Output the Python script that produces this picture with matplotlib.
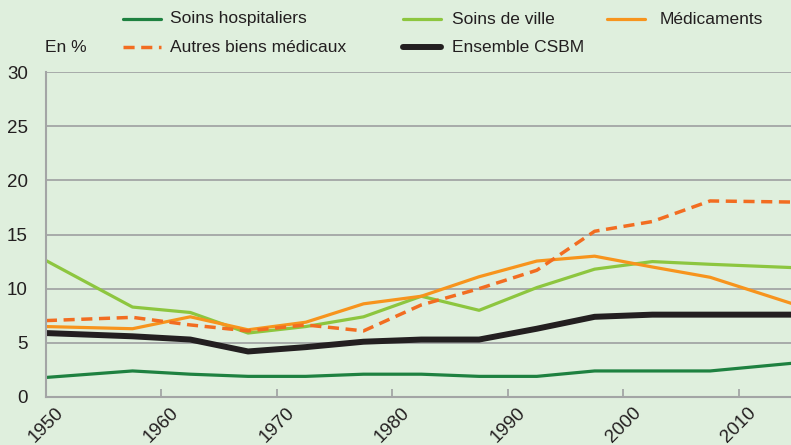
"""
Taux de croissance des composantes de la CSBM, 1950-2014
"""

import numpy as np
import matplotlib.pyplot as plt
from matplotlib.lines import Line2D

plt.rcParams['font.family'] = ['Liberation Sans', 'DejaVu Sans']

# Périodes (milieu de période quinquennale)
annees = [1950, 1957.5, 1962.5, 1967.5, 1972.5, 1977.5, 1982.5,
          1987.5, 1992.5, 1997.5, 2002.5, 2007.5, 2014.5]

hospitaliers = [1.8, 2.4, 2.1, 1.9, 1.9, 2.1, 2.1, 1.9, 1.9, 2.4, 2.4, 2.4, 3.1]
ville = [12.6, 8.3, 7.8, 5.9, 6.5, 7.4, 9.3, 8.0, 10.1, 11.8, 12.5, 12.25, 11.95]
medicaments = [6.5, 6.3, 7.4, 6.2, 6.9, 8.6, 9.3, 11.1, 12.55, 13.0, 12.0, 11.05, 8.65]
autres = [7.05, 7.35, 6.65, 6.1, 6.65, 6.1, 8.5, 10.0, 11.7, 15.3, 16.2, 18.1, 18.0]
ensemble = [5.9, 5.6, 5.3, 4.2, 4.6, 5.1, 5.3, 5.3, 6.3, 7.4, 7.6, 7.6, 7.6]

xticks = [1950, 1960, 1970, 1980, 1990, 2000, 2010]
yticks = [0, 5, 10, 15, 20, 25, 30]

bg = '#dfefdd'
txt = '#231f20'
grid_c = '#a3a5a5'

c_hosp = '#1e8140'
c_ville = '#8dc63f'
c_medic = '#f7941d'
c_autres = '#f26d21'
c_ens = '#231f20'

fig = plt.figure(figsize=(7.91, 4.45), dpi=100, facecolor=bg)
ax = fig.add_axes([0.058, 0.108, 0.942, 0.730])
ax.set_facecolor(bg)

ax.plot(annees, hospitaliers, color=c_hosp, linewidth=2.3)
ax.plot(annees, ville, color=c_ville, linewidth=2.3)
ax.plot(annees, medicaments, color=c_medic, linewidth=2.3)
ax.plot(annees, autres, color=c_autres, linewidth=2.5, dashes=(3.2, 1.9))
ax.plot(annees, ensemble, color=c_ens, linewidth=4.3)

ax.set_xlim(1950, 2014.5)
ax.set_ylim(0, 30)
ax.set_yticks(yticks)
ax.set_xticks(xticks)
ax.set_xticklabels([str(x) for x in xticks], rotation=45, ha='center',
                   fontsize=13.5, color=txt)
ax.set_yticklabels([str(y) for y in yticks], fontsize=13.5, color=txt)

ax.grid(axis='y', color=grid_c, linewidth=1.3)
ax.set_axisbelow(True)
ax.tick_params(axis='y', length=0, pad=13)
ax.tick_params(axis='x', direction='in', length=6, width=1.3, color=grid_c, pad=5)

for s in ['top', 'right']:
    ax.spines[s].set_visible(False)
for s in ['left', 'bottom']:
    ax.spines[s].set_color(grid_c)
    ax.spines[s].set_linewidth(1.5)

# Légende manuelle
items = [
    (123, 19, 170, c_hosp, 2.3, '-', 'Soins hospitaliers'),
    (403, 19, 452, c_ville, 2.3, '-', 'Soins de ville'),
    (607, 19, 660, c_medic, 2.3, '-', 'Médicaments'),
    (123, 47, 170, c_autres, 2.5, '--', 'Autres biens médicaux'),
    (403, 47, 452, c_ens, 4.3, '-', 'Ensemble CSBM'),
]
W, H = 791, 445
for x0, y0, xt, col, lw, ls, lab in items:
    ln = Line2D([x0 / W, (x0 + 38) / W], [1 - y0 / H, 1 - y0 / H],
                transform=fig.transFigure, color=col, linewidth=lw,
                solid_capstyle='round')
    if ls == '--':
        ln.set_dashes((3.2, 1.9))
    fig.lines.append(ln)
    fig.text(xt / W, 1 - y0 / H, lab, fontsize=12.5, color=txt, va='center')

fig.text(45 / W, 1 - 47 / H, 'En %', fontsize=12.5, color=txt, va='center')

plt.savefig('out.png', dpi=100, facecolor=bg)
